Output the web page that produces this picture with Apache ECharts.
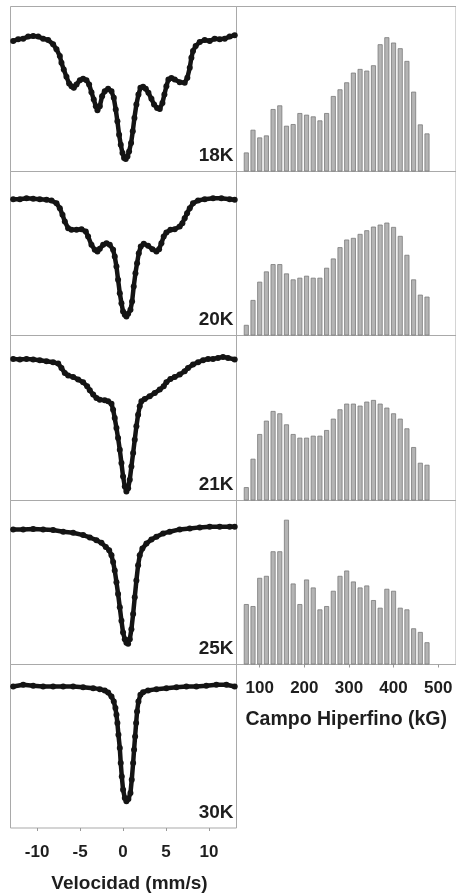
<!DOCTYPE html>
<html>
<head>
<meta charset="utf-8">
<script src="https://cdn.jsdelivr.net/npm/echarts@6/dist/echarts.min.js"></script>
<style>
html,body{margin:0;padding:0;background:#fff;}
#chart{width:456px;height:894px;}
</style>
</head>
<body>
<div id="chart"></div>
<script>
// ---------- Mössbauer spectra (velocity in mm/s, relative transmission %) ----------
const vel18 = [-12.79,-12.21,-11.62,-11.04,-10.46,-9.88,-9.30,-8.72,-8.14,-7.75,-7.36,-7.17,-6.90,-6.59,-6.28,-6.00,-5.73,-5.42,-5.03,-4.65,-4.26,-3.95,-3.68,-3.41,-3.17,-2.98,-2.71,-2.44,-2.13,-1.74,-1.35,-1.08,-0.85,-0.66,-0.46,-0.27,-0.07,0.12,0.31,0.51,0.70,0.93,1.13,1.32,1.55,1.79,2.02,2.33,2.64,2.95,3.30,3.61,3.96,4.27,4.58,4.81,5.04,5.28,5.62,6.01,6.59,7.17,7.48,7.76,7.95,8.14,8.45,8.92,9.50,10.08,10.66,11.24,11.83,12.41,12.99];
const trans18 = [99.90,100.00,100.04,100.16,100.20,100.16,100.04,99.96,99.70,99.40,99.00,98.60,98.20,97.76,97.36,97.20,97.10,97.30,97.56,97.64,97.56,97.30,96.84,96.40,96.00,95.76,96.00,96.60,96.90,97.04,96.90,96.50,95.80,95.10,94.30,93.70,93.20,92.90,92.84,93.00,93.30,93.80,94.50,95.30,96.10,96.70,97.10,97.16,97.04,96.80,96.44,96.10,95.90,95.84,96.20,96.70,97.20,97.60,97.68,97.60,97.44,97.40,97.70,98.30,98.90,99.30,99.60,99.84,99.96,99.90,100.04,100.00,100.04,100.16,100.24];

const vel20 = [-12.79,-12.01,-11.24,-10.46,-9.69,-8.91,-8.33,-7.75,-7.36,-7.05,-6.78,-6.39,-6.00,-5.42,-4.84,-4.34,-4.07,-3.68,-3.29,-2.98,-2.71,-2.32,-1.93,-1.55,-1.16,-0.97,-0.77,-0.58,-0.38,-0.19,0.00,0.20,0.39,0.59,0.86,1.05,1.24,1.44,1.63,1.83,2.06,2.41,2.91,3.42,3.88,4.19,4.46,4.73,5.04,5.51,6.01,6.59,6.90,7.17,7.45,7.76,8.14,8.73,9.50,10.47,11.44,12.41,12.99];
const trans20 = [100.00,100.00,100.06,100.02,100.00,99.96,99.92,99.76,99.46,99.06,98.66,98.26,98.16,98.16,98.20,98.06,97.76,97.26,96.96,96.86,97.02,97.26,97.36,97.26,96.96,96.56,95.96,95.16,94.36,93.76,93.26,93.06,92.96,93.12,93.36,93.86,94.76,95.56,96.16,96.76,97.16,97.32,97.20,97.00,96.86,97.00,97.36,97.76,98.00,98.16,98.20,98.36,98.56,98.86,99.16,99.46,99.76,99.92,100.00,100.06,100.06,100.00,99.96];

const vel21 = [-12.79,-12.01,-11.24,-10.46,-9.69,-8.91,-8.14,-7.55,-7.17,-6.78,-6.39,-5.81,-5.23,-4.65,-4.18,-3.87,-3.48,-3.10,-2.71,-2.13,-1.74,-1.35,-1.16,-0.97,-0.77,-0.58,-0.38,-0.19,0.00,0.20,0.39,0.59,0.78,0.97,1.17,1.36,1.55,1.75,1.94,2.14,2.52,3.10,3.69,4.27,4.73,5.04,5.51,6.01,6.59,7.17,7.56,8.14,8.73,9.31,9.89,10.47,11.05,11.63,12.21,12.99];
const trans21 = [100.04,100.00,100.04,100.00,99.96,99.90,99.84,99.76,99.50,99.20,99.04,98.96,98.80,98.64,98.40,98.16,97.90,97.70,97.60,97.56,97.50,97.36,97.00,96.50,95.90,95.30,94.60,93.80,93.00,92.40,92.10,92.30,92.80,93.60,94.40,95.20,96.00,96.70,97.20,97.50,97.64,97.80,98.00,98.20,98.40,98.64,98.84,98.96,99.10,99.30,99.50,99.70,99.84,99.96,100.04,100.04,100.10,100.16,100.10,100.00];

const vel25 = [-12.79,-11.62,-10.46,-9.30,-8.14,-6.97,-5.81,-4.65,-3.87,-3.10,-2.52,-2.01,-1.62,-1.35,-1.16,-0.97,-0.77,-0.58,-0.38,-0.19,0.00,0.20,0.39,0.59,0.78,0.97,1.17,1.36,1.55,1.75,1.94,2.25,2.72,3.30,3.88,4.66,5.43,6.59,7.76,8.92,10.08,11.24,12.41,12.99];
const trans25 = [99.94,99.94,99.96,99.94,99.90,99.80,99.74,99.60,99.46,99.30,99.14,98.90,98.70,98.40,98.00,97.50,96.80,96.10,95.30,94.50,93.80,93.40,93.20,93.14,93.40,94.00,94.90,95.90,96.90,97.80,98.40,98.80,99.10,99.34,99.50,99.70,99.80,99.94,100.00,100.06,100.10,100.10,100.10,100.10];

const vel30 = [-12.79,-11.62,-10.46,-9.30,-8.14,-6.97,-5.81,-4.65,-3.48,-2.71,-2.13,-1.74,-1.35,-1.08,-0.89,-0.77,-0.66,-0.54,-0.38,-0.27,-0.15,0.00,0.20,0.39,0.62,0.86,1.01,1.17,1.28,1.40,1.52,1.63,1.79,2.02,2.33,2.91,3.88,5.04,6.21,7.37,8.53,9.69,10.86,12.02,12.99];
const trans30 = [100.00,100.10,100.04,100.00,100.00,100.00,100.00,99.96,99.90,99.84,99.76,99.64,99.40,99.10,98.70,98.30,97.80,97.10,96.30,95.40,94.60,93.80,93.30,93.10,93.24,93.60,94.40,95.40,96.20,97.00,97.80,98.50,99.10,99.50,99.66,99.76,99.84,99.90,99.96,100.00,100.00,100.04,100.10,100.10,100.00];

const tempLabels = ['18K','20K','21K','25K','30K'];
const velTicks = [-10,-5,0,5,10];

// ---------- Hyperfine field distributions (kG, arbitrary probability units) ----------
const fieldBins = [70,85,100,115,130,145,160,175,190,205,220,235,250,265,280,295,310,325,340,355,370,385,400,415,430,445,460,475];
const prob18 = [57,125,102,108,187,198,137,142,175,170,165,153,175,226,246,267,296,307,302,318,381,402,386,369,331,239,141,114];
const prob20 = [32,107,162,193,215,215,187,169,174,180,174,174,204,232,266,289,294,306,317,328,334,340,327,300,243,169,123,117];
const prob21 = [40,125,199,239,268,261,228,199,188,188,194,194,211,245,273,290,290,284,296,301,290,278,261,245,216,160,113,107];
const prob25 = [182,176,261,267,341,341,436,244,182,256,232,166,176,222,267,283,250,232,238,194,171,228,222,171,166,109,98,67];
const fieldTicks = [100,200,300,400,500];

// ---------- layout ----------
const FONT = '"Liberation Sans", Arial, sans-serif';
const tops = [6.5,171.5,335.5,500.5,664.5];
const bottoms = [171.5,335.5,500.5,664.5,828.5];
const spectra = [[vel18,trans18],[vel20,trans20],[vel21,trans21],[vel25,trans25],[vel30,trans30]];
const yRanges = [[92.1,101.96],[91.82,101.66],[91.56,101.44],[91.9,101.66],[91.5,101.32]];
const hists = [prob18,prob20,prob21,prob25];

function zip(a,b){const n=Math.min(a.length,b.length);const r=[];for(let i=0;i<n;i++)r.push([a[i],b[i]]);return r;}

const grid=[], xAxis=[], yAxis=[], series=[], graphic=[];
const borderColor = '#a9a9a9';

spectra.forEach((s,i)=>{
  grid.push({left:10.5, top:tops[i], width:226, height:bottoms[i]-tops[i], show:true, borderColor:borderColor, borderWidth:1, backgroundColor:'transparent'});
  const last = i===4;
  xAxis.push({
    type:'value', gridIndex:grid.length-1, min:-13.1, max:13.2,
    axisLine:{show:false}, splitLine:{show:false},
    axisTick:{show:last, customValues:velTicks, length:3, lineStyle:{color:'#999'}},
    axisLabel:{show:last, customValues:velTicks, margin:16, fontSize:17, fontWeight:'bold', color:'#1e1e1e', fontFamily:FONT},
    name: last ? 'Velocidad (mm/s)' : '', nameLocation:'middle', nameGap:46,
    nameTextStyle:{fontSize:19, fontWeight:'bold', color:'#1e1e1e', fontFamily:FONT, padding:[0,0,0,12]}
  });
  yAxis.push({type:'value', gridIndex:grid.length-1, min:yRanges[i][0], max:yRanges[i][1], show:false, splitLine:{show:false}});
  series.push({
    type:'line', xAxisIndex:grid.length-1, yAxisIndex:grid.length-1,
    data:zip(s[0],s[1]), symbol:'circle', symbolSize:6, showSymbol:true,
    lineStyle:{color:'#141414', width:4.5, join:'round', cap:'round'}, itemStyle:{color:'#141414'},
    animation:false, silent:true
  });
  graphic.push({type:'text', x:233.5, y:bottoms[i]-15.5, silent:true,
    style:{text:tempLabels[i], align:'right', verticalAlign:'middle', font:'bold 19px '+FONT, fill:'#1e1e1e'}});
});

hists.forEach((h,i)=>{
  grid.push({left:236.5, top:tops[i], width:220, height:bottoms[i]-tops[i], show:true, borderColor:borderColor, borderWidth:1, backgroundColor:'transparent'});
  const last = i===3;
  xAxis.push({
    type:'value', gridIndex:grid.length-1, min:48, max:540,
    axisLine:{show:false}, splitLine:{show:false},
    axisTick:{show:last, customValues:fieldTicks, length:3, lineStyle:{color:'#999'}},
    axisLabel:{show:last, customValues:fieldTicks, margin:15, fontSize:17, fontWeight:'bold', color:'#1e1e1e', fontFamily:FONT},
    name: last ? 'Campo Hiperfino (kG)' : '', nameLocation:'middle', nameGap:45,
    nameTextStyle:{fontSize:19.5, fontWeight:'bold', color:'#1e1e1e', fontFamily:FONT}
  });
  yAxis.push({type:'value', gridIndex:grid.length-1, min:0, max:494, show:false, splitLine:{show:false}});
  series.push({
    type:'bar', xAxisIndex:grid.length-1, yAxisIndex:grid.length-1,
    data:zip(fieldBins,h), barWidth:5,
    itemStyle:{color:'#b4b4b4', borderColor:'#7a7a7a', borderWidth:0.8},
    animation:false, silent:true
  });
});

const chart = echarts.init(document.getElementById('chart'), null, {renderer:'canvas'});
chart.setOption({backgroundColor:'#ffffff', animation:false, grid, xAxis, yAxis, series, graphic});
</script>
</body>
</html>
